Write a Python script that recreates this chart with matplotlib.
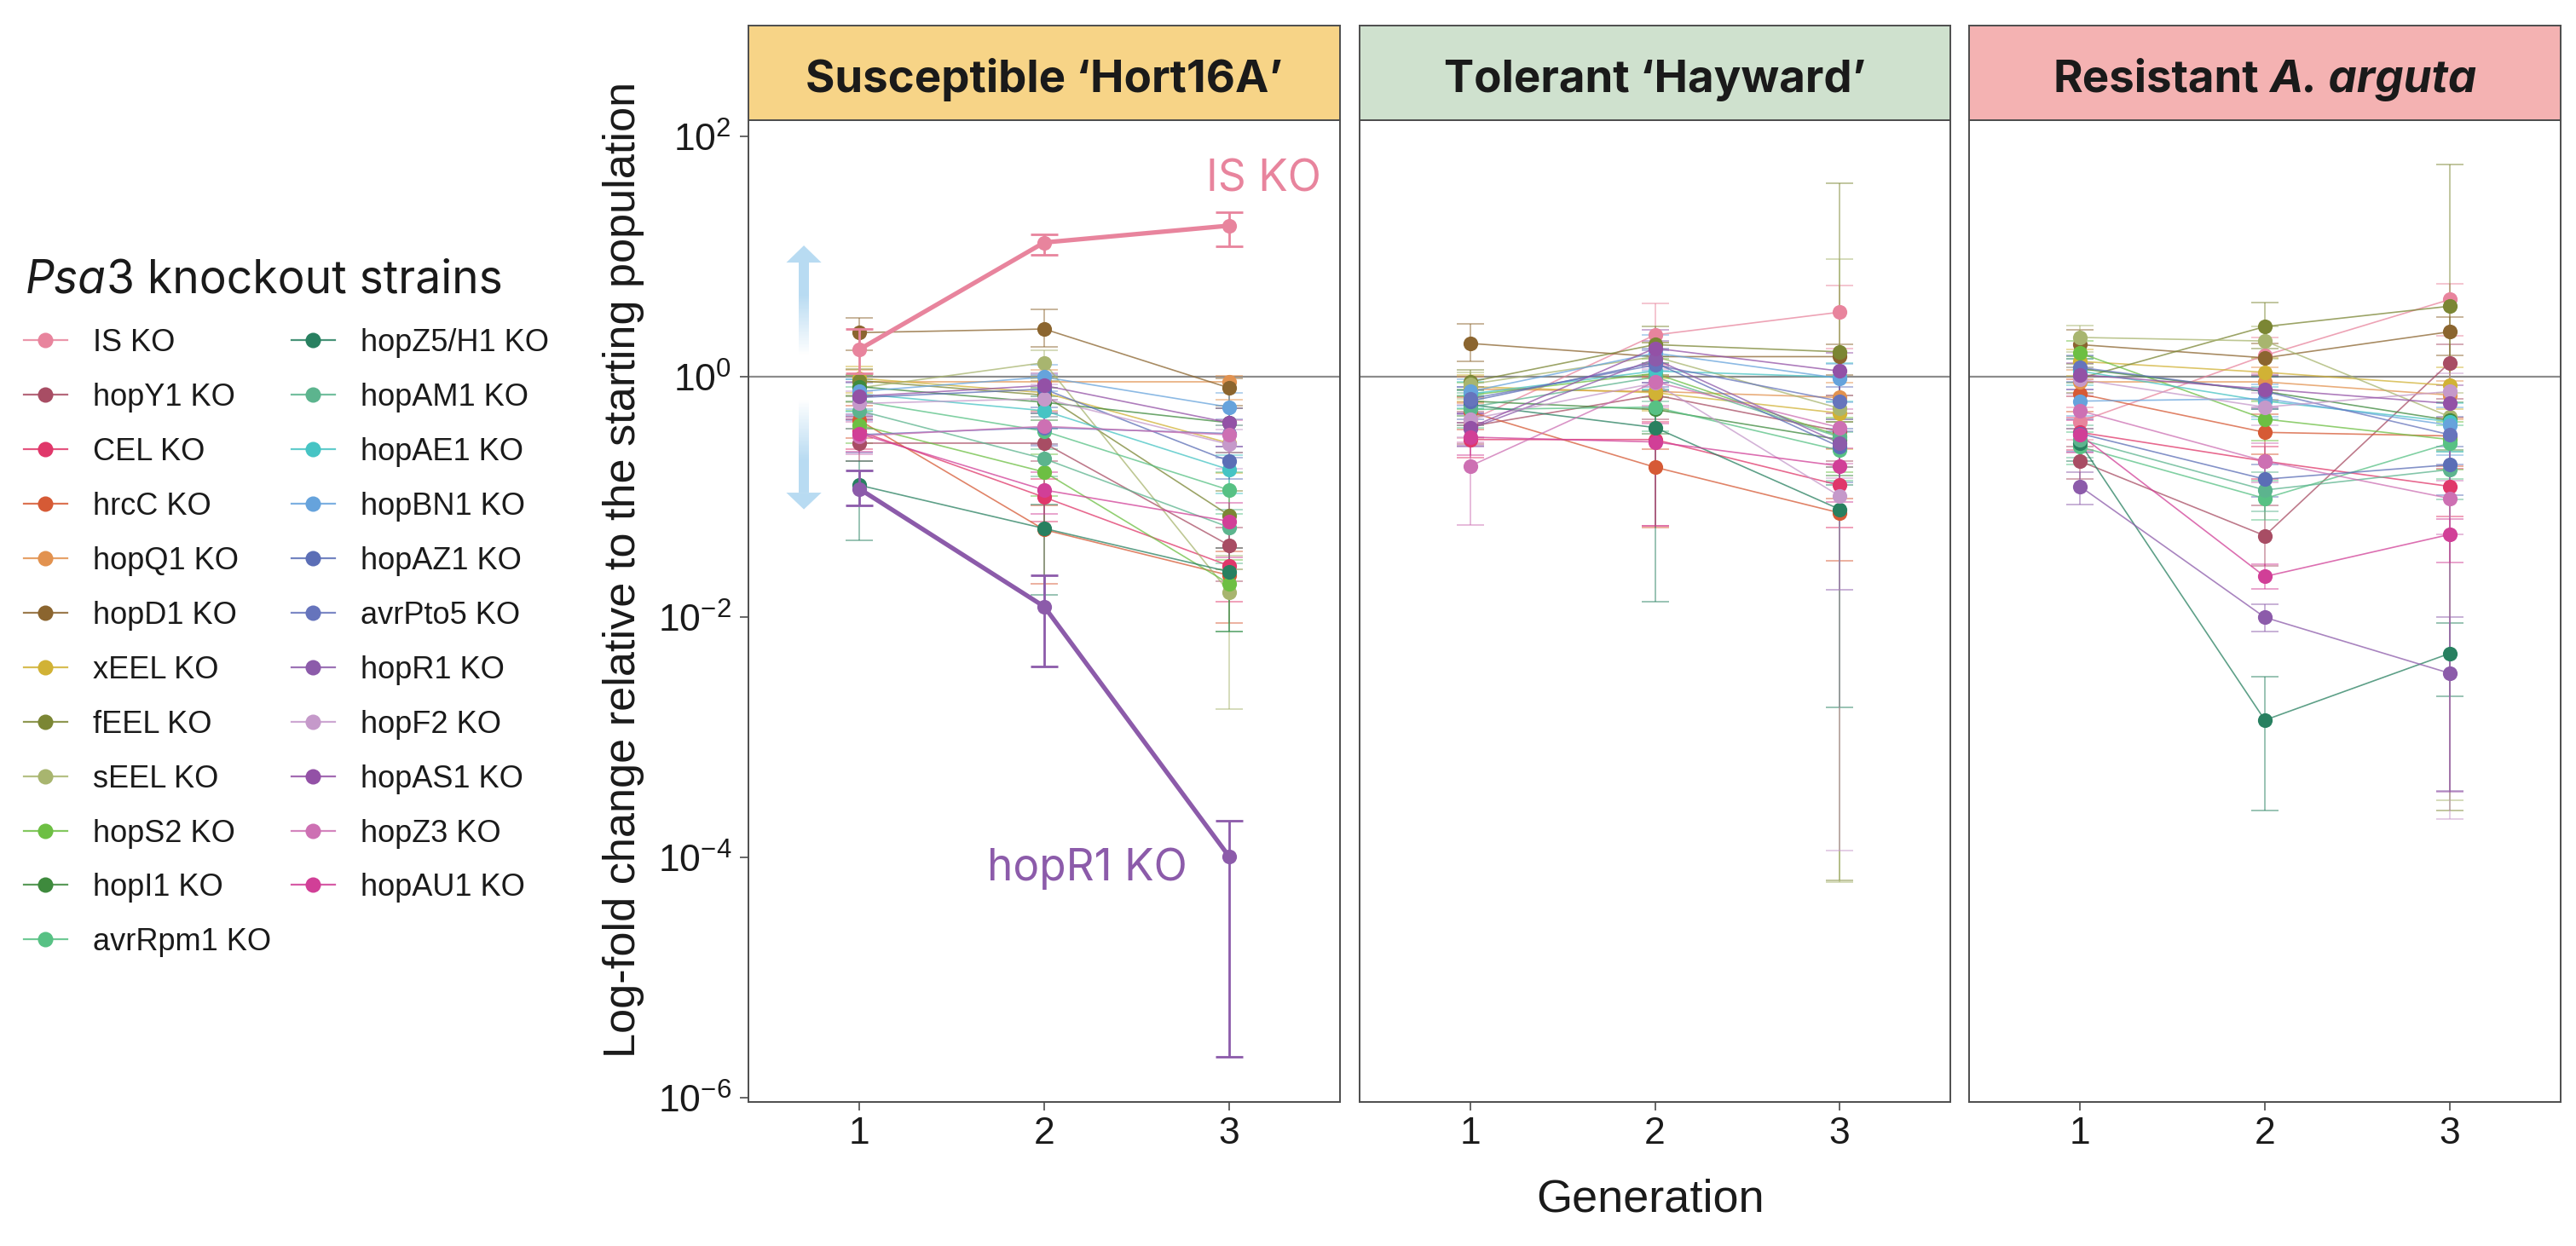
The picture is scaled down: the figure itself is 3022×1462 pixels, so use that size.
import numpy as np
import matplotlib
matplotlib.use("Agg")
import matplotlib.pyplot as plt
from matplotlib.lines import Line2D
from matplotlib.patches import Polygon, Rectangle
from matplotlib.ticker import NullLocator

W, H, DPI = 3022, 1462, 200

# ---------------- data ----------------
strains = ["IS KO", "hopY1 KO", "CEL KO", "hrcC KO", "hopQ1 KO", "hopD1 KO", "xEEL KO",
           "fEEL KO", "sEEL KO", "hopS2 KO", "hopI1 KO", "avrRpm1 KO", "hopZ5/H1 KO",
           "hopAM1 KO", "hopAE1 KO", "hopBN1 KO", "hopAZ1 KO", "avrPto5 KO", "hopR1 KO",
           "hopF2 KO", "hopAS1 KO", "hopZ3 KO", "hopAU1 KO"]
colors = ["#E8849D", "#A84D64", "#E0376A", "#D65A35", "#E2924F", "#8B652F", "#D1B235",
          "#7B8634", "#A8B56F", "#6DBF43", "#3E8A3D", "#57C184", "#288060",
          "#5CB48E", "#46C4C4", "#66A3DC", "#5B6EB6", "#6674BC", "#8C5BAA",
          "#C599CA", "#9351A6", "#CD70B3", "#D13F97"]
generations = [1, 2, 3]
panel_titles = ["Susceptible \u2018Hort16A\u2019", "Tolerant \u2018Hayward\u2019", "Resistant A. arguta"]
strip_colors = ["#F7D487", "#CFE1CE", "#F4B2B2"]
ytick_values = [1e-6, 1e-4, 1e-2, 1, 1e2]

# log10 fold change, rows follow `strains`, columns generation 1..3
sus_log10 = [
    [0.23, 1.12, 1.26], [-0.55, -0.55, -1.40], [-0.45, -1.00, -1.57], [-0.36, -1.27, -1.65],
    [-0.04, -0.04, -0.04], [0.37, 0.40, -0.09], [-0.01, -0.13, -0.55], [-0.03, -0.15, -1.15],
    [-0.09, 0.12, -1.79], [-0.40, -0.79, -1.72], [-0.08, -0.21, -0.38], [-0.20, -0.45, -0.94],
    [-0.90, -1.26, -1.62], [-0.28, -0.68, -1.25], [-0.14, -0.28, -0.77], [-0.12, 0.00, -0.25],
    [-0.17, -0.10, -0.70], [-0.48, -0.42, -0.47], [-0.93, -1.91, -3.99], [-0.22, -0.18, -0.56],
    [-0.16, -0.07, -0.38], [-0.49, -0.41, -0.48], [-0.47, -0.94, -1.20]]
sus_err_lo = [
    [0.20, 0.10, 0.17], [0.15, 0.15, 0.30], [0.15, 0.20, 0.30], [0.15, 0.45, 0.40],
    [0.12, 0.12, 0.15], [0.15, 0.15, 0.15], [0.12, 0.15, 0.25], [0.12, 0.15, 0.45],
    [0.12, 0.12, 0.97], [0.15, 0.20, 0.40], [0.12, 0.15, 0.25], [0.15, 0.15, 0.20],
    [0.46, 0.55, 0.50], [0.15, 0.15, 0.30], [0.15, 0.15, 0.20], [0.15, 0.12, 0.15],
    [0.15, 0.15, 0.15], [0.15, 0.15, 0.20], [0.14, 0.50, 1.67], [0.12, 0.15, 0.20],
    [0.15, 0.12, 0.20], [0.15, 0.15, 0.15], [0.15, 0.20, 0.30]]
sus_err_hi = [
    [0.17, 0.07, 0.11], [0.12, 0.12, 0.15], [0.12, 0.15, 0.15], [0.12, 0.20, 0.20],
    [0.10, 0.10, 0.05], [0.12, 0.16, 0.08], [0.10, 0.12, 0.15], [0.10, 0.12, 0.20],
    [0.10, 0.10, 0.30], [0.12, 0.15, 0.20], [0.10, 0.12, 0.12], [0.12, 0.12, 0.15],
    [0.20, 0.20, 0.20], [0.12, 0.12, 0.15], [0.12, 0.12, 0.12], [0.10, 0.10, 0.12],
    [0.12, 0.12, 0.12], [0.12, 0.12, 0.12], [0.15, 0.26, 0.30], [0.10, 0.12, 0.12],
    [0.12, 0.10, 0.12], [0.12, 0.12, 0.12], [0.12, 0.15, 0.15]]

tol_log10 = [
    [-0.36, 0.35, 0.54], [-0.41, -0.15, -0.45], [-0.52, -0.52, -0.90], [-0.29, -0.75, -1.13],
    [-0.10, -0.12, -0.17], [0.28, 0.17, 0.17], [-0.08, -0.13, -0.30], [-0.04, 0.27, 0.21],
    [-0.06, 0.17, -0.26], [-0.15, 0.03, -0.49], [-0.20, -0.27, -0.52], [-0.27, -0.25, -0.61],
    [-0.23, -0.42, -1.10], [-0.25, 0.00, -0.50], [-0.14, 0.05, 0.00], [-0.12, 0.20, -0.01],
    [-0.20, 0.12, -0.58], [-0.18, 0.10, -0.20], [-0.43, 0.15, -0.55], [-0.35, -0.05, -0.99],
    [-0.42, 0.24, 0.05], [-0.74, -0.04, -0.42], [-0.50, -0.54, -0.74]]
tol_err_lo = [
    [0.15, 0.25, 0.30], [0.15, 0.20, 0.25], [0.15, 0.72, 0.35], [0.15, 0.50, 0.40],
    [0.12, 0.15, 0.20], [0.15, 0.15, 0.15], [0.12, 0.15, 0.30], [0.12, 0.15, 4.40],
    [0.12, 0.15, 3.94], [0.12, 0.20, 0.30], [0.12, 0.20, 0.30], [0.15, 0.20, 0.25],
    [0.15, 1.45, 1.65], [0.15, 0.20, 0.25], [0.12, 0.15, 0.20], [0.12, 0.15, 0.20],
    [0.15, 0.20, 0.30], [0.12, 0.15, 0.25], [0.15, 0.20, 1.22], [0.15, 0.20, 2.95],
    [0.15, 0.15, 0.20], [0.49, 0.20, 0.30], [0.15, 0.70, 0.30]]
tol_err_hi = [
    [0.15, 0.26, 0.22], [0.12, 0.15, 0.15], [0.12, 0.15, 0.15], [0.12, 0.15, 0.12],
    [0.10, 0.12, 0.12], [0.16, 0.12, 0.10], [0.10, 0.12, 0.15], [0.10, 0.15, 1.40],
    [0.10, 0.12, 1.24], [0.10, 0.12, 0.15], [0.10, 0.15, 0.15], [0.12, 0.15, 0.15],
    [0.12, 0.30, 0.20], [0.12, 0.12, 0.15], [0.10, 0.12, 0.12], [0.10, 0.15, 0.12],
    [0.12, 0.12, 0.15], [0.10, 0.12, 0.12], [0.12, 0.15, 0.20], [0.12, 0.12, 0.15],
    [0.12, 0.15, 0.15], [0.20, 0.15, 0.15], [0.12, 0.15, 0.15]]

res_log10 = [
    [-0.37, 0.18, 0.645], [-0.70, -1.32, 0.12], [-0.46, -0.70, -0.91], [-0.14, -0.46, -0.49],
    [-0.04, -0.04, -0.15], [0.27, 0.16, 0.377], [0.13, 0.04, -0.07], [-0.01, 0.42, 0.59],
    [0.33, 0.30, -0.33], [0.20, -0.35, -0.52], [0.07, -0.12, -0.36], [-0.58, -1.01, -0.55],
    [-0.55, -2.855, -2.30], [-0.52, -0.94, -0.77], [0.05, -0.20, -0.37], [-0.20, -0.18, -0.40],
    [-0.47, -0.85, -0.73], [0.08, -0.12, -0.48], [-0.91, -2.00, -2.465], [-0.02, -0.25, -0.12],
    [0.02, -0.10, -0.22], [-0.28, -0.70, -1.01], [-0.48, -1.66, -1.31]]
res_err_lo = [
    [0.15, 0.15, 0.30], [0.15, 0.25, 0.30], [0.15, 0.15, 0.25], [0.15, 0.18, 0.25],
    [0.12, 0.15, 0.20], [0.12, 0.15, 0.20], [0.12, 0.15, 0.20], [0.12, 0.18, 4.20],
    [0.12, 0.15, 3.19], [0.12, 0.18, 0.25], [0.12, 0.15, 0.25], [0.15, 0.18, 0.30],
    [0.15, 0.75, 0.36], [0.15, 0.18, 0.25], [0.12, 0.15, 0.25], [0.12, 0.15, 0.25],
    [0.15, 0.15, 0.25], [0.12, 0.15, 0.25], [0.15, 0.12, 0.98], [0.12, 0.15, 3.56],
    [0.12, 0.15, 3.23], [0.15, 0.18, 0.30], [0.15, 0.10, 0.23]]
res_err_hi = [
    [0.12, 0.15, 0.13], [0.12, 0.25, 0.15], [0.12, 0.12, 0.15], [0.12, 0.15, 0.15],
    [0.10, 0.12, 0.12], [0.12, 0.12, 0.12], [0.10, 0.12, 0.15], [0.12, 0.20, 1.18],
    [0.10, 0.12, 0.20], [0.10, 0.15, 0.15], [0.10, 0.12, 0.15], [0.12, 0.15, 0.15],
    [0.12, 0.36, 0.25], [0.12, 0.15, 0.15], [0.10, 0.12, 0.15], [0.10, 0.12, 0.15],
    [0.12, 0.12, 0.15], [0.10, 0.12, 0.15], [0.12, 0.11, 0.47], [0.10, 0.12, 0.15],
    [0.10, 0.12, 0.15], [0.12, 0.15, 0.15], [0.12, 0.10, 0.13]]

panels = [(sus_log10, sus_err_lo, sus_err_hi),
          (tol_log10, tol_err_lo, tol_err_hi),
          (res_log10, res_err_lo, res_err_hi)]
highlight = {0: ["IS KO", "hopR1 KO"]}

# ---------------- layout helpers ----------------
fig = plt.figure(figsize=(W / DPI, H / DPI), dpi=DPI)
fig.patch.set_facecolor("white")

def rect(l, t, r, b):
    return [l / W, 1 - b / H, (r - l) / W, (b - t) / H]

def fx(x):
    return x / W

def fy(y):
    return 1 - y / H

TXT = "#1a1a1a"
EDGE = "#4d4d4d"
panel_x = [(878, 1572), (1595, 2288), (2310, 3004)]
AX_TOP, AX_BOT, STRIP_TOP = 141, 1293, 30
YLIM = (10 ** -6.033, 10 ** 2.138)

axes = []
for pi, (l, r) in enumerate(panel_x):
    ax = fig.add_axes(rect(l, AX_TOP, r, AX_BOT))
    ax.set_yscale("log")
    ax.set_xlim(0.4, 3.6)
    ax.set_ylim(*YLIM)
    ax.axhline(1, color="#8c8c8c", lw=0.8, zorder=1)
    vals_all, lo_all, hi_all = panels[pi]
    hl = highlight.get(pi, [])
    for si, name in enumerate(strains):
        lv = np.array(vals_all[si])
        v = 10 ** lv
        lo = v - 10 ** (lv - np.array(lo_all[si]))
        hi = 10 ** (lv + np.array(hi_all[si])) - v
        c = colors[si]
        big = name in hl
        ax.errorbar(generations, v, yerr=[lo, hi], fmt="none", ecolor=c,
                    elinewidth=1.0 if big else 0.55, capsize=5.8,
                    capthick=1.0 if big else 0.55, alpha=1.0 if big else 0.6,
                    zorder=6 if big else 2)
        ax.plot(generations, v, color=c, lw=1.9 if big else 0.6,
                alpha=1.0 if big else 0.75, zorder=6 if big else 3,
                solid_capstyle="round")
        ax.plot(generations, v, ls="none", marker="o", ms=6.2, mfc=c, mec=c,
                mew=0, zorder=7 if big else 4)
    for s in ax.spines.values():
        s.set_color(EDGE)
        s.set_linewidth(0.7)
    ax.set_xticks(generations)
    ax.set_xticklabels([str(g) for g in generations], fontsize=16,
                       family="Liberation Sans", color=TXT)
    ax.tick_params(axis="x", length=3.6, width=0.6, color=EDGE, pad=2.5)
    ax.yaxis.set_minor_locator(NullLocator())
    if pi == 0:
        ax.set_yticks(ytick_values)
        ax.tick_params(axis="y", length=3.6, width=0.6, color=EDGE, pad=3.6,
                       labelsize=16, labelcolor=TXT, labelfontfamily="Liberation Sans")
    else:
        ax.tick_params(axis="y", left=False, labelleft=False)
    axes.append(ax)

    sax = fig.add_axes(rect(l, STRIP_TOP, r, AX_TOP))
    sax.set_facecolor(strip_colors[pi])
    sax.set_xticks([])
    sax.set_yticks([])
    for s in sax.spines.values():
        s.set_color(EDGE)
        s.set_linewidth(0.7)

renderer = fig.canvas.get_renderer()

def width_px(t):
    return t.get_window_extent(renderer=renderer).width

def mixed(parts, x_px, y_px, align="center", size=19, weight="normal", family="Inter"):
    """parts: list of (text, italic?) drawn on a common baseline."""
    objs = []
    for s, it in parts:
        t = fig.text(0, fy(y_px), s, fontsize=size, fontweight=weight, family=family,
                     style="italic" if it else "normal", color=TXT, va="baseline", ha="left")
        objs.append(t)
    probe1 = fig.text(0, 0, "x x", fontsize=size, fontweight=weight, family=family)
    probe2 = fig.text(0, 0, "xx", fontsize=size, fontweight=weight, family=family)
    space = width_px(probe1) - width_px(probe2)
    probe1.remove()
    probe2.remove()
    widths = []
    for (s, it), t in zip(parts, objs):
        t.set_text(s.strip())
        widths.append(width_px(t) + (space if s.endswith(" ") else 0))
    total = sum(widths)
    x0 = x_px - total / 2 if align == "center" else x_px
    for t, w in zip(objs, widths):
        t.set_x(fx(x0))
        x0 += w
    return objs

# strip titles
for pi, (l, r) in enumerate(panel_x):
    cx = (l + r) / 2
    if pi < 2:
        fig.text(fx(cx), fy(108), panel_titles[pi], fontsize=19, fontweight="bold",
                 family="Inter", color=TXT, ha="center", va="baseline")
    else:
        mixed([("Resistant ", False), ("A. arguta", True)], cx, 108, size=19, weight="bold")

# annotations in susceptible panel
axes[0].text(3.498, 10 ** 1.549, "IS KO", color=colors[0], fontsize=18.5, family="Inter",
             ha="right", va="baseline")
axes[0].text(2.774, 10 ** -4.186, "hopR1 KO", color=colors[18], fontsize=18.5, family="Inter",
             ha="right", va="baseline")

# gradient double arrow
ARROW = "#B8DBF2"
xa, hw, sw = 0.70, 0.095, 0.028
for tip, base, fade in [(1.095, 0.953, 0.187), (-1.101, -0.962, -0.188)]:
    axes[0].add_patch(Polygon([(xa - hw, 10 ** base), (xa + hw, 10 ** base), (xa, 10 ** tip)],
                              closed=True, fc=ARROW, ec="none", zorder=1.5))
    n = 80
    edges = np.linspace(base, fade, n + 1)
    for k in range(n):
        u = (k + 0.5) / n
        a = min(1.0, (1 - u) / 0.65)
        y0, y1 = sorted([10 ** edges[k], 10 ** edges[k + 1]])
        axes[0].add_patch(Rectangle((xa - sw, y0), 2 * sw, y1 - y0, fc=ARROW, ec="none",
                                    alpha=a, lw=0, antialiased=False, zorder=1.5))

# axis titles
fig.text(fx(732), fy(668), "Log-fold change relative to the starting population", rotation=90,
         fontsize=18.8, family="Liberation Sans", color=TXT, ha="center", va="center")
fig.text(fx(1936), fy(1421.7), "Generation", fontsize=19.5, family="Liberation Sans", color=TXT,
         ha="center", va="baseline")

# legend
mixed([("Psa", True), ("3 knockout strains", False)], 30, 344, align="left", size=19.2)
row0, drow = 399.4, 63.9
cols = [(28, 79, 53, 109), (342, 393, 367, 423)]
for si, name in enumerate(strains):
    ci = 0 if si < 12 else 1
    ri = si if si < 12 else si - 12
    y = row0 + ri * drow
    x1, x2, xm, xt = cols[ci]
    fig.add_artist(Line2D([fx(x1), fx(x2)], [fy(y), fy(y)], transform=fig.transFigure,
                          color=colors[si], lw=0.8, alpha=0.85))
    fig.add_artist(Line2D([fx(xm)], [fy(y)], transform=fig.transFigure, ls="none",
                          marker="o", ms=6.5, mfc=colors[si], mec=colors[si], mew=0))
    fig.text(fx(xt), fy(y + 13), name, fontsize=13, family="Liberation Sans", color=TXT,
             ha="left", va="baseline")

fig.savefig("out.png", dpi=DPI, facecolor="white")
